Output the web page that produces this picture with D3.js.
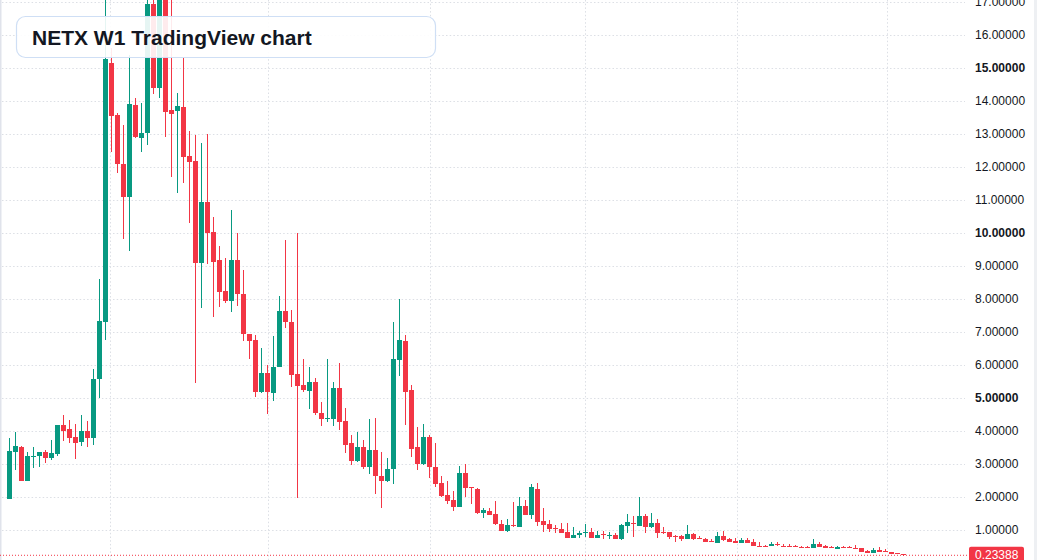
<!DOCTYPE html>
<html>
<head>
<meta charset="utf-8">
<script src="https://cdn.jsdelivr.net/npm/d3@7"></script>
<style>
  html, body { margin: 0; padding: 0; background: #fff; }
  body { width: 1037px; height: 560px; overflow: hidden; }
  .chart { position: relative; }
</style>
</head>
<body>
<div class="chart"></div>
<script>
// weekly candles, NETX
var opens = [1.95, 3.37, 3.52, 2.49, 3.22, 3.25, 3.36, 3.19, 3.31, 4.18, 4.05, 3.82, 3.68, 4.00, 3.80, 5.58, 7.31, 15.16, 13.58, 12.09,
  11.10, 13.88, 12.89, 13.02, 16.94, 14.38, 17.40, 13.72, 13.71, 13.83, 12.33, 12.18, 9.08, 10.95, 10.03, 9.18, 8.24, 7.95, 9.18, 8.15,
  6.94, 6.76, 5.19, 5.77, 5.14, 5.95, 7.64, 7.31, 5.73, 5.39, 5.22, 5.48, 4.55, 4.38, 4.36, 5.30, 4.30, 3.65, 3.10, 3.52,
  2.92, 3.42, 2.64, 2.49, 2.85, 6.15, 6.73, 5.24, 3.52, 3.01, 3.82, 2.92, 2.43, 2.06, 1.90, 1.71, 2.72, 2.30, 2.24, 1.52,
  1.59, 1.48, 1.18, 0.98, 1.14, 1.10, 1.73, 1.45, 2.24, 1.27, 1.18, 1.05, 1.03, 0.95, 0.77, 0.85, 0.91, 0.95, 0.77, 0.87,
  0.83, 0.86, 0.72, 1.13, 1.22, 1.13, 1.42, 1.09, 1.22, 0.94, 0.93, 0.82, 0.81, 0.73, 0.87, 0.76, 0.74, 0.67, 0.62, 0.81,
  0.72, 0.67, 0.61, 0.71, 0.63, 0.53, 0.53, 0.51, 0.57, 0.53, 0.52, 0.51, 0.49, 0.48, 0.46, 0.57, 0.51, 0.49, 0.43, 0.49,
  0.49, 0.46, 0.45, 0.36, 0.31, 0.40, 0.37, 0.33, 0.29, 0.28];
var highs = [3.79, 3.96, 3.55, 3.36, 3.52, 3.36, 3.42, 3.73, 4.18, 4.48, 4.33, 4.21, 4.48, 4.30, 5.88, 8.61, 17.20, 15.60, 13.65, 13.27,
  15.40, 14.08, 13.93, 17.30, 17.50, 17.60, 17.80, 17.10, 14.23, 15.30, 13.09, 12.97, 12.74, 13.00, 10.49, 9.61, 9.25, 10.70, 9.99, 8.88,
  6.94, 6.91, 6.52, 6.00, 6.88, 8.09, 9.79, 7.67, 9.99, 6.18, 5.95, 5.62, 4.89, 6.18, 5.48, 6.05, 4.69, 3.88, 3.98, 3.73,
  4.36, 4.38, 3.35, 3.17, 7.31, 8.00, 6.91, 5.39, 4.12, 4.21, 3.87, 3.64, 2.64, 2.48, 2.18, 2.94, 3.00, 2.30, 2.26, 1.68,
  1.68, 1.89, 1.30, 1.33, 1.85, 1.99, 1.91, 2.39, 2.42, 1.68, 1.30, 1.15, 1.22, 1.22, 1.09, 0.97, 1.18, 1.05, 0.96, 0.97,
  0.94, 0.91, 1.18, 1.48, 1.42, 2.01, 1.48, 1.52, 1.33, 1.09, 0.93, 0.84, 0.84, 1.15, 0.90, 0.82, 0.76, 0.72, 0.94, 0.96,
  0.76, 0.77, 0.77, 0.77, 0.73, 0.63, 0.54, 0.64, 0.63, 0.58, 0.58, 0.54, 0.51, 0.50, 0.73, 0.64, 0.54, 0.51, 0.51, 0.51,
  0.51, 0.54, 0.45, 0.38, 0.45, 0.48, 0.42, 0.33, 0.31, 0.28];
var lows = [1.95, 2.82, 2.49, 2.49, 2.89, 2.92, 3.04, 3.12, 3.25, 3.71, 3.65, 3.16, 3.55, 3.52, 3.58, 5.00, 6.77, 12.46, 11.83, 9.82,
  9.46, 12.87, 12.46, 12.67, 14.20, 14.08, 12.92, 11.71, 11.20, 11.52, 10.31, 5.45, 7.72, 9.06, 7.45, 7.77, 7.89, 7.62, 7.80, 6.74,
  6.17, 5.04, 5.14, 4.51, 4.92, 5.95, 7.13, 5.32, 1.96, 5.19, 4.67, 4.48, 4.15, 4.28, 4.15, 4.03, 3.34, 2.97, 3.07, 2.86,
  2.70, 2.09, 1.68, 2.45, 2.38, 5.68, 4.18, 3.22, 2.82, 2.97, 2.57, 2.31, 1.99, 1.79, 1.58, 1.71, 2.01, 1.79, 1.48, 1.37,
  1.45, 1.15, 0.98, 0.95, 1.08, 1.10, 1.45, 1.34, 1.12, 0.95, 0.93, 0.90, 0.90, 0.77, 0.75, 0.75, 0.80, 0.77, 0.75, 0.73,
  0.73, 0.73, 0.70, 0.92, 0.80, 1.13, 0.92, 1.05, 0.76, 0.87, 0.73, 0.65, 0.67, 0.73, 0.70, 0.72, 0.65, 0.63, 0.60, 0.68,
  0.65, 0.62, 0.61, 0.61, 0.52, 0.50, 0.49, 0.51, 0.51, 0.51, 0.48, 0.48, 0.46, 0.45, 0.45, 0.48, 0.45, 0.45, 0.43, 0.45,
  0.45, 0.44, 0.34, 0.31, 0.31, 0.34, 0.32, 0.28, 0.26, 0.22];
var closes = [3.39, 3.55, 2.49, 3.24, 3.24, 3.36, 3.19, 3.32, 4.18, 4.01, 3.80, 3.65, 4.00, 3.80, 5.58, 7.33, 15.28, 13.55, 12.08, 11.10,
  13.90, 12.92, 13.02, 16.94, 14.40, 17.40, 13.68, 13.62, 13.85, 12.31, 12.16, 9.09, 10.95, 9.99, 9.13, 8.22, 7.95, 9.18, 8.14, 6.93,
  6.74, 5.19, 5.77, 5.17, 5.95, 7.64, 7.31, 5.70, 5.37, 5.24, 5.48, 4.54, 4.35, 4.40, 5.30, 4.28, 3.58, 3.10, 3.52, 2.92,
  3.42, 2.64, 2.49, 2.85, 6.18, 6.76, 5.19, 3.46, 3.01, 3.82, 2.92, 2.39, 2.03, 1.89, 1.71, 2.72, 2.28, 2.27, 1.52, 1.61,
  1.45, 1.18, 0.98, 1.15, 1.11, 1.73, 1.45, 2.30, 1.25, 1.15, 1.03, 1.03, 0.92, 0.77, 0.85, 0.92, 0.95, 0.77, 0.85, 0.84,
  0.86, 0.73, 1.15, 1.24, 1.20, 1.42, 1.10, 1.22, 0.92, 0.92, 0.80, 0.80, 0.73, 0.87, 0.73, 0.74, 0.65, 0.63, 0.81, 0.70,
  0.65, 0.62, 0.71, 0.61, 0.52, 0.51, 0.51, 0.58, 0.55, 0.52, 0.48, 0.48, 0.46, 0.46, 0.57, 0.48, 0.46, 0.46, 0.48, 0.46,
  0.47, 0.44, 0.34, 0.31, 0.40, 0.34, 0.35, 0.28, 0.28, 0.23388];

var priceTicks = [1, 2, 3, 4, 5, 6, 7, 8, 9, 10, 11, 12, 13, 14, 15, 16, 17];
var boldTicks = [5, 10, 15];
// time grid lines, in candle index units (month boundaries)
var timeGrid = [16.8, 43, 70, 96, 121.2, 146.3];
var lastPrice = 0.23388;
var title = "NETX W1 TradingView chart";

var UP = "#089981", DOWN = "#F23645";

function drawChart() {
  var width = 1037, height = 560;
  var plotRight = 968;

  var svg = d3.select(".chart")
    .append("svg")
    .attr("width", width)
    .attr("height", height)
    .style("font-family", "'Liberation Sans', Arial, sans-serif");

  var x = d3.scaleLinear()
    .domain([0, opens.length - 1])
    .range([9.5, 9.5 + 6 * (opens.length - 1)]);

  var y = d3.scaleLinear()
    .domain([0, 17])
    .range([563, 2]);

  svg.append("defs").append("clipPath")
    .attr("id", "plot-clip")
    .append("rect")
    .attr("x", 0).attr("y", 0)
    .attr("width", plotRight).attr("height", height);

  // left border
  svg.append("rect")
    .attr("x", 0).attr("y", 0)
    .attr("width", 1.5).attr("height", height)
    .attr("fill", "#e0e3eb");

  // horizontal grid
  svg.append("g")
    .selectAll("line")
    .data(priceTicks)
    .enter()
    .append("line")
    .attr("x1", 2)
    .attr("x2", 965)
    .attr("y1", function (d) { return Math.round(y(d)) + 0.5; })
    .attr("y2", function (d) { return Math.round(y(d)) + 0.5; })
    .attr("stroke", "#dcdfe5")
    .attr("stroke-dasharray", "1.5,2.2");

  // vertical grid
  svg.append("g")
    .selectAll("line")
    .data(timeGrid)
    .enter()
    .append("line")
    .attr("x1", function (d) { return Math.round(x(d)) + 0.5; })
    .attr("x2", function (d) { return Math.round(x(d)) + 0.5; })
    .attr("y1", 0)
    .attr("y2", height)
    .attr("stroke", "#dcdfe5")
    .attr("stroke-dasharray", "1.5,2.2");

  // candles
  var candles = d3.range(opens.length).map(function (i) {
    return { i: i, o: opens[i], h: highs[i], l: lows[i], c: closes[i] };
  });

  var plot = svg.append("g").attr("clip-path", "url(#plot-clip)");

  var g = plot.selectAll("g.candle")
    .data(candles)
    .enter()
    .append("g")
    .attr("class", "candle");

  g.append("line")
    .attr("x1", function (d) { return x(d.i); })
    .attr("x2", function (d) { return x(d.i); })
    .attr("y1", function (d) { return Math.round(y(d.h)); })
    .attr("y2", function (d) { return Math.round(y(d.l)); })
    .attr("stroke", function (d) { return d.c >= d.o ? UP : DOWN; })
    .attr("stroke-width", 1);

  g.append("rect")
    .attr("x", function (d) { return x(d.i) - 2.5; })
    .attr("width", 5)
    .attr("y", function (d) { return Math.round(y(Math.max(d.o, d.c))); })
    .attr("height", function (d) {
      return Math.max(1, Math.round(y(Math.min(d.o, d.c))) - Math.round(y(Math.max(d.o, d.c))));
    })
    .attr("fill", function (d) { return d.c >= d.o ? UP : DOWN; });

  // last price line
  svg.append("line")
    .attr("x1", 0)
    .attr("x2", plotRight)
    .attr("y1", y(lastPrice))
    .attr("y2", y(lastPrice))
    .attr("stroke", DOWN)
    .attr("stroke-dasharray", "1,2");

  // price axis labels
  svg.append("g")
    .selectAll("text")
    .data(priceTicks)
    .enter()
    .append("text")
    .attr("x", 975)
    .attr("y", function (d) { return y(d); })
    .attr("dominant-baseline", "central")
    .attr("font-size", "12px")
    .attr("fill", "#131722")
    .attr("font-weight", function (d) { return boldTicks.includes(d) ? "bold" : "normal"; })
    .text(function (d) { return d3.format(".5f")(d); });

  // last price badge
  svg.append("rect")
    .attr("x", 969)
    .attr("y", y(lastPrice) - 8.5)
    .attr("width", 55)
    .attr("height", 17)
    .attr("rx", 2)
    .attr("fill", DOWN);
  svg.append("text")
    .attr("x", 975)
    .attr("y", y(lastPrice))
    .attr("dominant-baseline", "central")
    .attr("font-size", "12px")
    .attr("fill", "#ffffff")
    .text(d3.format(".5f")(lastPrice));

  // right border
  svg.append("rect")
    .attr("x", 1034).attr("y", 0)
    .attr("width", 3).attr("height", height)
    .attr("fill", "#eef0f3");

  // title box
  svg.append("rect")
    .attr("x", 16.5)
    .attr("y", 16.5)
    .attr("width", 419)
    .attr("height", 41)
    .attr("rx", 9)
    .attr("fill", "rgba(255,255,255,0.9)")
    .attr("stroke", "#cfdff5")
    .attr("stroke-width", 1.2);
  svg.append("text")
    .attr("x", 32)
    .attr("y", 44.5)
    .attr("font-size", "21px")
    .attr("font-weight", "bold")
    .attr("fill", "#131722")
    .text(title);
}

drawChart();
</script>
</body>
</html>
